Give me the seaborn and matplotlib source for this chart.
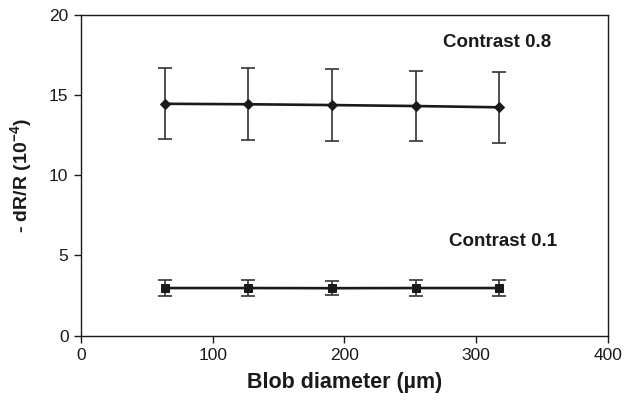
import numpy as np
import pandas as pd
import matplotlib
matplotlib.use('Agg')
import matplotlib.pyplot as plt
import seaborn as sns

sns.set_style('ticks')
plt.rcParams['font.family'] = ['Liberation Sans', 'DejaVu Sans']
plt.rcParams['mathtext.fontset'] = 'custom'
plt.rcParams['mathtext.rm'] = 'Liberation Sans'
plt.rcParams['mathtext.bf'] = 'Liberation Sans:bold'

# blob diameters (um)
diameter = [63.5, 127, 190.5, 254, 317.5]

# contrast 0.8
high_mean = [14.45, 14.42, 14.37, 14.31, 14.23]
high_err = [2.22, 2.23, 2.24, 2.20, 2.20]

# contrast 0.1
low_mean = [2.97, 2.97, 2.96, 2.97, 2.97]
low_err = [0.52, 0.52, 0.45, 0.52, 0.52]

contrasts = ['0.8', '0.1']
x_ticks = [0, 100, 200, 300, 400]
y_ticks = [0, 5, 10, 15, 20]

df = pd.DataFrame({
    'diameter': diameter * 2,
    'dR': high_mean + low_mean,
    'err': high_err + low_err,
    'contrast': [contrasts[0]] * len(diameter) + [contrasts[1]] * len(diameter),
})

fig = plt.figure(figsize=(6.25, 4.05), dpi=100)
ax = fig.add_axes([0.1296, 0.1711, 0.8432, 0.7926])

for c in contrasts:
    sub = df[df['contrast'] == c]
    ax.errorbar(sub['diameter'], sub['dR'], yerr=sub['err'], fmt='none',
                ecolor='#333333', elinewidth=1.2, capsize=5, capthick=1.2, zorder=2)

sns.lineplot(data=df, x='diameter', y='dR', style='contrast', markers={'0.8': 'D', '0.1': 's'},
             dashes=False, color='#1a1a1a', linewidth=1.9, markersize=5.5,
             markeredgecolor='#1a1a1a', legend=False, ax=ax, zorder=3)

ax.text(316, 18.25, 'Contrast ' + contrasts[0], ha='center', va='center',
        fontsize=13.5, fontweight='bold', color='#1a1a1a')
ax.text(320, 5.86, 'Contrast ' + contrasts[1], ha='center', va='center',
        fontsize=13.5, fontweight='bold', color='#1a1a1a')

ax.set_xlim(0, 400)
ax.set_ylim(0, 20)
ax.set_xticks(x_ticks)
ax.set_yticks(y_ticks)
ax.tick_params(direction='out', length=5, width=1, labelsize=12.5, colors='#1a1a1a', pad=4)
for s in ax.spines.values():
    s.set_color('#1a1a1a')
    s.set_linewidth(1)
    s.set_visible(True)

ax.set_xlabel('Blob diameter (µm)', fontsize=15.5, fontweight='bold', color='#1a1a1a', labelpad=6)
ax.set_ylabel(r'- dR/R (10$^{\mathbf{-4}}$)', fontsize=14, fontweight='bold', color='#1a1a1a', labelpad=10)

fig.savefig('out.png', dpi=100)
